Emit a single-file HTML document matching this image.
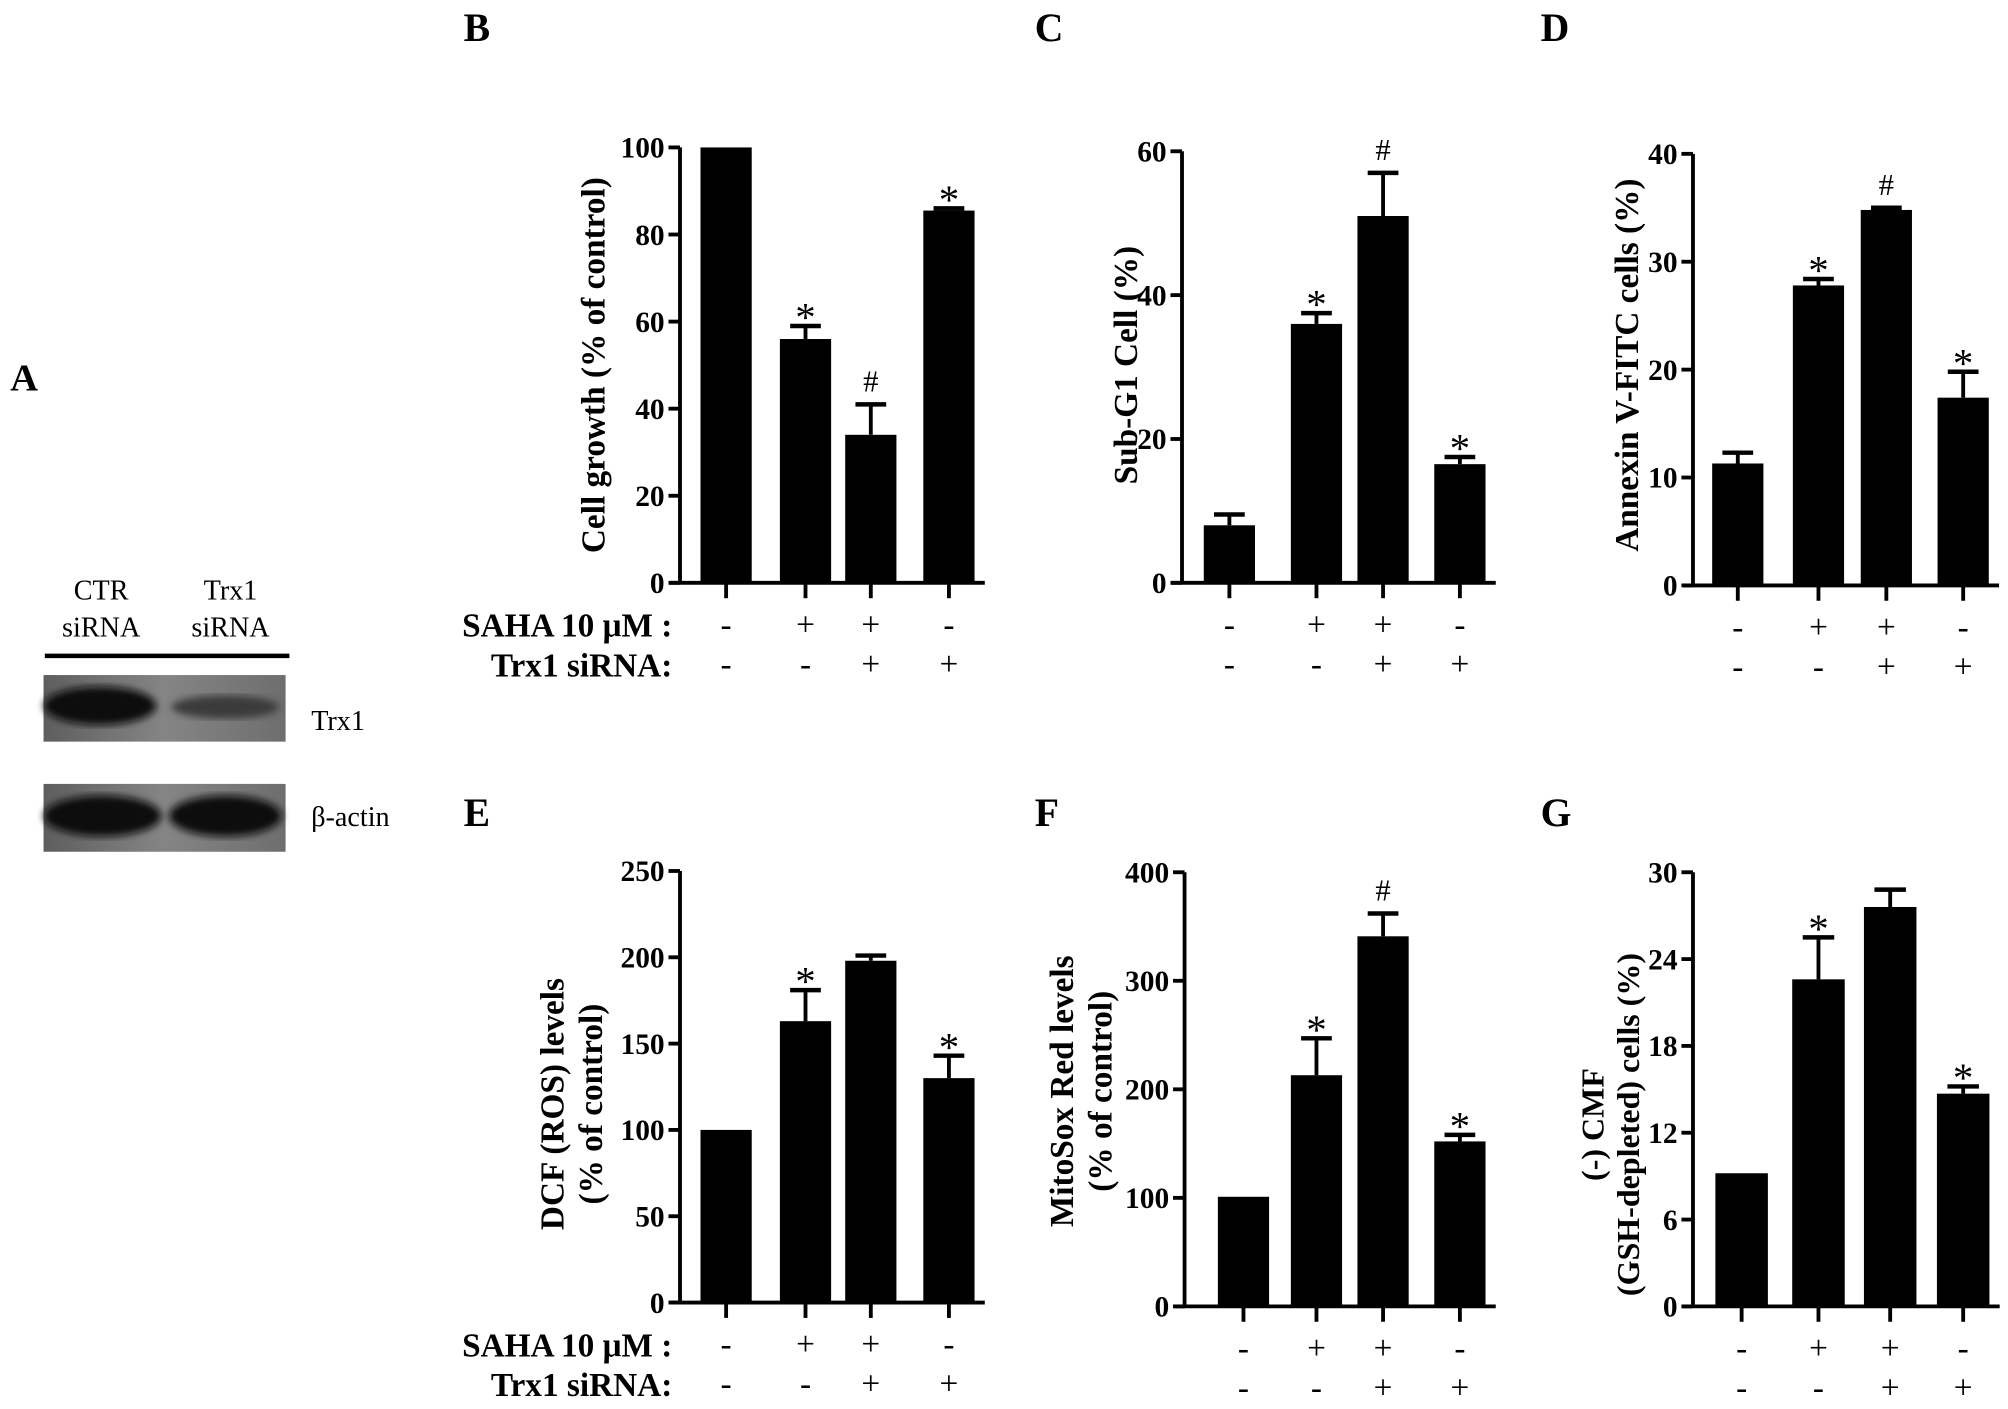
<!DOCTYPE html>
<html><head><meta charset="utf-8"><style>
html,body{margin:0;padding:0;background:#fff;}
svg{display:block;font-family:"Liberation Serif",serif;font-weight:bold;}
</style></head><body>
<svg id="fig" width="2008" height="1409" viewBox="0 0 1568 1100" xmlns="http://www.w3.org/2000/svg">
<defs>
<linearGradient id="blotbg" x1="0" x2="1" y1="0" y2="0"><stop offset="0" stop-color="#5e5e5e"/><stop offset="0.5" stop-color="#858585"/><stop offset="1" stop-color="#6e6e6e"/></linearGradient>
<filter id="blur"><feGaussianBlur stdDeviation="3"/></filter>
</defs>
<g>
<text x="8" y="305" font-size="30">A</text>
<text x="79" y="468" font-size="22" font-weight="normal" text-anchor="middle">CTR</text>
<text x="79" y="497" font-size="22" font-weight="normal" text-anchor="middle">siRNA</text>
<text x="180" y="468" font-size="22" font-weight="normal" text-anchor="middle">Trx1</text>
<text x="180" y="497" font-size="22" font-weight="normal" text-anchor="middle">siRNA</text>
<line x1="35" y1="512" x2="226" y2="512" stroke="#000" stroke-width="3.5"/>
<rect x="34" y="527" width="189" height="52" fill="url(#blotbg)"/>
<ellipse cx="78" cy="551" rx="44" ry="15" fill="#111" filter="url(#blur)"/>
<ellipse cx="176" cy="552" rx="42" ry="9" fill="#3a3a3a" filter="url(#blur)"/>
<rect x="34" y="612" width="189" height="53" fill="url(#blotbg)"/>
<ellipse cx="80" cy="637" rx="46" ry="16" fill="#0c0c0c" filter="url(#blur)"/>
<ellipse cx="176" cy="637" rx="44" ry="16" fill="#111" filter="url(#blur)"/>
<text x="243" y="570" font-size="22" font-weight="normal">Trx1</text>
<text x="243" y="645" font-size="22" font-weight="normal">β-actin</text>
</g>
<g id="charts"></g>
</svg>
<script>
const sahaRow = ["-","+","+","-"];
const trxRow = ["-","-","+","+"];
const valsB = [100,56,34,85.5];
const errB = [0,59,41,86];
const markB = ["","*","#","*"];
const ticksB = [0,20,40,60,80,100];
const valsC = [8,36,51,16.5];
const errC = [9.5,37.5,57,17.5];
const markC = ["","*","#","*"];
const ticksC = [0,20,40,60];
const valsD = [11.3,27.8,34.8,17.4];
const errD = [12.3,28.4,35,19.8];
const markD = ["","*","#","*"];
const ticksD = [0,10,20,30,40];
const valsE = [100,163,198,130];
const errE = [0,181,201,143];
const markE = ["","*","","*"];
const ticksE = [0,50,100,150,200,250];
const valsF = [101,213,341,152];
const errF = [0,247,362,158];
const markF = ["","*","#","*"];
const ticksF = [0,100,200,300,400];
const valsG = [9.2,22.6,27.6,14.7];
const errG = [0,25.5,28.8,15.2];
const markG = ["","*","","*"];
const ticksG = [0,6,12,18,24,30];

const NS="http://www.w3.org/2000/svg";
const root=document.getElementById('charts');
function mk(tag,attrs,parent,txt){const e=document.createElementNS(NS,tag);for(const k in attrs)e.setAttribute(k,attrs[k]);if(txt!==undefined)e.textContent=txt;parent.appendChild(e);return e;}

function panel(cfg){
  const g=mk('g',{},root);
  
  
  const max=cfg.ticks[cfg.ticks.length-1];
  const y=v=>cfg.y0-(v/max)*(cfg.y0-cfg.yTop);
  const x=i=>cfg.x0+cfg.offs[i];
  const lab=mk('text',{x:cfg.lx,y:cfg.ly,'font-size':31},g,cfg.id.toUpperCase());
  
  
  for(let i=0;i<4;i++){
    const cx=x(i), bw=cfg.bw;
    const top=y(cfg.vals[i]);
    if(cfg.err[i]>cfg.vals[i]){
      const ey=y(cfg.err[i]);
      const el=mk('line',{x1:cx,x2:cx,y1:top,y2:ey,stroke:'#000','stroke-width':3},g);
      
      
      const cap=mk('line',{x1:cx-bw*0.3,x2:cx+bw*0.3,y1:ey,y2:ey,stroke:'#000','stroke-width':3.5},g);
      
      
    }
    const r=mk('rect',{x:cx-bw/2,y:top,width:bw,height:cfg.y0-top,fill:'#000'},g);
    
    
    if(cfg.mark[i]){
      const my=y(Math.max(cfg.err[i],cfg.vals[i]))-10;
      const m=mk('text',{x:cx,y:cfg.mark[i]=='*'?my+14:my,'font-size':cfg.mark[i]=='*'?32:24,'font-weight':'normal','text-anchor':'middle'},g,cfg.mark[i]);
      
      
    }
    const t=mk('line',{x1:cx,x2:cx,y1:cfg.y0,y2:cfg.y0+12,stroke:'#000','stroke-width':3},g);
    
    
    const s=mk('text',{x:cx,y:cfg.y0+41,'font-size':26,'font-weight':'normal','text-anchor':'middle'},g,sahaRow[i]);
    
    
    const s2=mk('text',{x:cx,y:cfg.y0+72,'font-size':26,'font-weight':'normal','text-anchor':'middle'},g,trxRow[i]);
    
    
  }
  const ya=mk('line',{x1:cfg.x0,x2:cfg.x0,y1:cfg.yTop,y2:cfg.y0,stroke:'#000','stroke-width':3},g);
  
  
  const xa=mk('line',{x1:cfg.x0-8,x2:x(3)+cfg.bw/2+8,y1:cfg.y0,y2:cfg.y0,stroke:'#000','stroke-width':3},g);
  
  
  cfg.ticks.forEach(v=>{
    const tl=mk('line',{x1:cfg.x0-9,x2:cfg.x0,y1:y(v),y2:y(v),stroke:'#000','stroke-width':3},g);
    
    
    const tx=mk('text',{x:cfg.x0-12,y:y(v)+8,'font-size':23,'text-anchor':'end'},g,v);
    
    
  });
  const mid=cfg.titleY;
  cfg.title.forEach((t,k)=>{
    const tt=mk('text',{x:cfg.titleX[k],y:mid,'font-size':cfg.tfs||26,'text-anchor':'middle',transform:`rotate(-90 ${cfg.titleX[k]} ${mid})`},g,t);
    
    
  });
  if(cfg.rowLabels){
    const a=mk('text',{x:cfg.x0-6,y:cfg.y0+42,'font-size':26,'text-anchor':'end'},g,'SAHA 10 μM :');
    
    
    const b=mk('text',{x:cfg.x0-6,y:cfg.y0+73,'font-size':26,'text-anchor':'end'},g,'Trx1  siRNA:');
    
    
  }
}
panel({id:'b',lx:362,ly:32,x0:531,y0:455,yTop:115,bw:40,offs:[36,98,149,210],ticks:ticksB,vals:valsB,err:errB,mark:markB,title:['Cell growth (% of control)'],titleX:[472],titleY:285,rowLabels:true});
panel({id:'c',lx:808,ly:32,x0:923,y0:455,yTop:118,bw:40,offs:[37,105,157,217],ticks:ticksC,vals:valsC,err:errC,mark:markC,title:['Sub-G1 Cell (%)'],titleX:[888],titleY:285});
panel({id:'d',lx:1203,ly:32,x0:1322,y0:457,yTop:120,bw:40,offs:[35,98,151,211],ticks:ticksD,vals:valsD,err:errD,mark:markD,title:['Annexin V-FITC cells (%)'],titleX:[1279],titleY:285});
panel({id:'e',lx:362,ly:645,x0:531,y0:1017,yTop:680,bw:40,offs:[36,98,149,210],ticks:ticksE,vals:valsE,err:errE,mark:markE,title:['DCF (ROS) levels','(% of control)'],titleX:[440,470],titleY:862,rowLabels:true});
panel({id:'f',lx:808,ly:645,x0:925,y0:1020,yTop:681,bw:40,offs:[46,103,155,215],ticks:ticksF,vals:valsF,err:errF,mark:markF,title:['MitoSox Red levels','(% of control)'],titleX:[838,868],titleY:852});
panel({id:'g',lx:1203,ly:645,x0:1322,y0:1020,yTop:681,bw:41,offs:[38,98,154,211],ticks:ticksG,vals:valsG,err:errG,mark:markG,title:['(-) CMF','(GSH-depleted) cells (%)'],titleX:[1252,1280],titleY:878,tfs:25});
</script>
</body></html>
